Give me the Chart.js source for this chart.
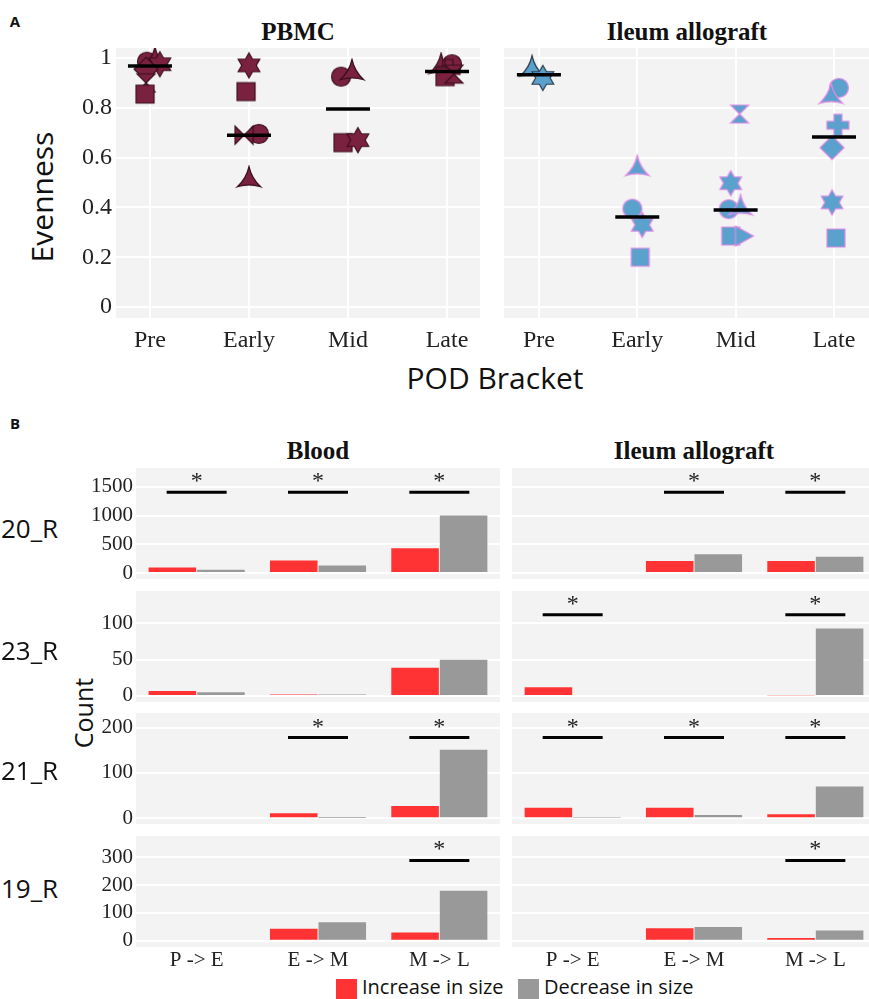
<!DOCTYPE html>
<html>
<head>
<meta charset="utf-8">
<script src="https://cdn.jsdelivr.net/npm/chart.js@4.4.0/dist/chart.umd.min.js"></script>
<style>
html, body { margin: 0; padding: 0; overflow: hidden; background: #fff; width: 869px; height: 999px; }
canvas { position: absolute; }
.lbl { position: absolute; white-space: nowrap; line-height: 1; color: #111; }
.c { transform: translate(-50%, -50%); }
.rot { transform: translate(-50%, -50%) rotate(-90deg); }
.title { font-family: "Liberation Serif", serif; font-weight: bold; font-size: 25px; }
.sans { font-family: "Open Sans", sans-serif; }
.key { position: absolute; width: 21px; height: 20px; }
</style>
</head>
<body>

<div class="lbl sans c" style="left:15px;top:21px;font-size:15px;font-weight:bold">A</div>
<div class="lbl title c" style="left:298px;top:31px">PBMC</div>
<div class="lbl title c" style="left:687px;top:31px">Ileum allograft</div>
<div class="lbl sans rot" style="left:42px;top:197px;font-size:30px">Evenness</div>
<div class="lbl sans c" style="left:495px;top:378px;font-size:30px">POD Bracket</div>

<div class="lbl sans c" style="left:15px;top:423px;font-size:15px;font-weight:bold">B</div>
<div class="lbl title c" style="left:318px;top:450px">Blood</div>
<div class="lbl title c" style="left:694px;top:450px">Ileum allograft</div>
<div class="lbl sans rot" style="left:83px;top:713px;font-size:25px">Count</div>

<div class="key" style="left:336px;top:979px;background:#ff3333"></div>
<div class="lbl sans" style="left:362px;top:977px;font-size:20px">Increase in size</div>
<div class="key" style="left:518px;top:979px;background:#999999"></div>
<div class="lbl sans" style="left:544px;top:977px;font-size:20px">Decrease in size</div>

<script>
// ---- panel A data ----
var brackets = ['Pre', 'Early', 'Mid', 'Late'];

var pbmcBracket  = [0, 0, 0, 0, 0, 0, 1, 1, 1, 1, 1, 2, 2, 2, 2, 3, 3, 3, 3, 3];
var pbmcEvenness = [0.985, 0.99, 0.975, 0.955, 0.9, 0.855, 0.97, 0.865, 0.695, 0.69, 0.51,
                    0.925, 0.94, 0.66, 0.67, 0.965, 0.975, 0.95, 0.925, 0.935];
var pbmcJitter   = [-0.03, 0.05, 0.1, -0.04, -0.04, -0.05, 0, -0.03, 0.1, -0.05, 0,
                    -0.07, 0.04, -0.05, 0.1, -0.06, 0.05, 0.02, -0.02, 0.07];
var pbmcMedian   = [0.968, 0.69, 0.795, 0.946];

var ileumBracket  = [0, 0, 1, 1, 1, 1, 2, 2, 2, 2, 2, 2, 3, 3, 3, 3, 3, 3];
var ileumEvenness = [0.955, 0.92, 0.555, 0.395, 0.33, 0.2,
                     0.775, 0.497, 0.393, 0.397, 0.285, 0.285,
                     0.88, 0.845, 0.73, 0.64, 0.42, 0.277];
var ileumJitter   = [-0.07, 0.04, 0, -0.05, 0.05, 0.03,
                     0.04, -0.05, -0.07, 0.05, -0.05, 0.08,
                     0.05, -0.03, 0.04, -0.02, -0.02, 0.02];
var ileumMedian   = [0.933, 0.361, 0.39, 0.683];

// marker shape of each point (one shape per patient)
var pbmcShape  = ['circle', 'startri', 'hexagram', 'diamond', 'hourglass', 'square',
                  'hexagram', 'square', 'circle', 'bowtie', 'startri',
                  'circle', 'startri', 'square', 'hexagram',
                  'startri', 'circle', 'cross', 'square', 'hourglass'];
var ileumShape = ['startri', 'hexagram', 'startri', 'circle', 'hexagram', 'square',
                  'hourglass', 'hexagram', 'circle', 'startri', 'square', 'triright',
                  'circle', 'startri', 'cross', 'diamond', 'hexagram', 'square'];

// ---- panel B data ----
var transitions = ['P -> E', 'E -> M', 'M -> L'];
var patients = ['20_R', '23_R', '21_R', '19_R'];

var bloodIncrease = [[97, 220, 430], [7, 2, 39], [0, 11, 27], [0, 43, 29]];
var bloodDecrease = [[57, 133, 1000], [5, 2, 50], [0, 0.5, 151], [0, 66, 179]];
var ileumIncrease = [[0, 210, 210], [12, 0, 1], [23, 23, 9], [0, 45, 10]];
var ileumDecrease = [[0, 325, 285], [0, 1.5, 93], [1, 7, 70], [0, 49, 37]];

var bloodSig = [[1, 1, 1], [0, 0, 0], [0, 1, 1], [0, 0, 1]];
var ileumSig = [[0, 1, 1], [1, 0, 1], [1, 1, 1], [0, 0, 1]];
var sigLevel = [1406, 112, 178, 288];

var countMin   = [-104, -8.3, -12.6, -22.7];
var countMax   = [1829, 144.6, 232, 376];
var countTicks = [[0, 500, 1000, 1500], [0, 50, 100], [0, 100, 200], [0, 100, 200, 300]];

// ---- helpers ----
var panelBg = {
    id: 'panelBg',
    beforeDraw: function (chart) {
        var a = chart.chartArea, c = chart.ctx;
        c.save();
        c.fillStyle = '#f3f3f3';
        c.fillRect(a.left, a.top, a.right - a.left, a.bottom - a.top);
        c.restore();
    }
};

var asterisks = {
    id: 'asterisks',
    afterDatasetsDraw: function (chart) {
        var c = chart.ctx;
        chart.data.datasets.forEach(function (ds, i) {
            if (!ds.sig) return;
            chart.getDatasetMeta(i).data.forEach(function (pt, j) {
                if (ds.data[j] === null) return;
                c.save();
                c.fillStyle = '#222';
                c.font = '24px "Liberation Serif"';
                c.textAlign = 'center';
                c.textBaseline = 'alphabetic';
                c.fillText('*', pt.x, pt.y - 4);
                c.restore();
            });
        });
    }
};

function marker(shape, fill, stroke) {
    var s = 30, cv = document.createElement('canvas');
    cv.width = cv.height = s;
    var g = cv.getContext('2d');
    g.translate(s / 2, s / 2);
    g.beginPath();
    var k, a, r;
    if (shape === 'circle') {
        g.arc(0, 0, 9.5, 0, Math.PI * 2);
    } else if (shape === 'square') {
        g.rect(-9, -9, 18, 18);
    } else if (shape === 'diamond') {
        g.moveTo(0, -12); g.lineTo(12, 0); g.lineTo(0, 12); g.lineTo(-12, 0);
    } else if (shape === 'hexagram') {
        for (k = 0; k < 12; k++) {
            a = -Math.PI / 2 + k * Math.PI / 6;
            r = k % 2 ? 7.2 : 12.5;
            g.lineTo(r * Math.cos(a), r * Math.sin(a));
        }
    } else if (shape === 'startri') {
        for (k = 0; k < 3; k++) {
            a = -Math.PI / 2 + k * 2 * Math.PI / 3;
            var a2 = a + Math.PI / 3;
            if (k === 0) g.moveTo(13.5 * Math.cos(a), 13.5 * Math.sin(a));
            var b = a + 2 * Math.PI / 3;
            g.quadraticCurveTo(3 * Math.cos(a2), 3 * Math.sin(a2), 13.5 * Math.cos(b), 13.5 * Math.sin(b));
        }
    } else if (shape === 'hourglass') {
        g.moveTo(-9, -9); g.lineTo(9, -9); g.lineTo(-9, 9); g.lineTo(9, 9);
    } else if (shape === 'bowtie') {
        g.moveTo(-9, -9); g.lineTo(9, 9); g.lineTo(9, -9); g.lineTo(-9, 9);
    } else if (shape === 'cross') {
        g.moveTo(-4, -11); g.lineTo(4, -11); g.lineTo(4, -4); g.lineTo(11, -4); g.lineTo(11, 4);
        g.lineTo(4, 4); g.lineTo(4, 11); g.lineTo(-4, 11); g.lineTo(-4, 4); g.lineTo(-11, 4);
        g.lineTo(-11, -4); g.lineTo(-4, -4);
    } else if (shape === 'triright') {
        g.moveTo(-8, -10); g.lineTo(10, 0); g.lineTo(-8, 10);
    }
    g.closePath();
    g.fillStyle = fill;
    g.fill();
    g.lineWidth = 1.2;
    g.strokeStyle = stroke;
    g.stroke();
    return cv;
}

function addCanvas(left, top, w, h) {
    var cv = document.createElement('canvas');
    cv.width = w; cv.height = h;
    cv.style.left = left + 'px';
    cv.style.top = top + 'px';
    cv.style.width = w + 'px';
    cv.style.height = h + 'px';
    document.body.appendChild(cv);
    return cv;
}

var serif = function (size) { return { family: '"Liberation Serif", serif', size: size }; };

// ---- panel A ----
function evennessChart(cv, bracket, values, jitter, shapes, medians, fill, stroke, preStroke, opt) {
    var pts = bracket.map(function (b, i) { return { x: b + jitter[i], y: values[i] }; });
    var styles = shapes.map(function (s, i) { return marker(s, fill, bracket[i] === 0 ? preStroke : stroke); });
    new Chart(cv, {
        type: 'scatter',
        data: {
            datasets: [{
                data: medians.map(function (m, i) { return { x: i, y: m }; }),
                pointStyle: 'line', pointRadius: 22, pointHoverRadius: 22,
                borderColor: '#000', pointBorderWidth: 3.5, borderWidth: 3.5
            }, {
                data: pts,
                pointStyle: styles, pointRadius: 10
            }]
        },
        options: {
            responsive: false, animation: false,
            layout: { autoPadding: false, padding: { top: 8, right: opt.padRight, left: 0, bottom: 0 } },
            plugins: { legend: { display: false }, tooltip: { enabled: false } },
            scales: {
                x: {
                    type: 'linear', min: opt.xmin, max: opt.xmax,
                    afterBuildTicks: function (s) { s.ticks = [0, 1, 2, 3].map(function (v) { return { value: v }; }); },
                    afterFit: function (s) { s.height = 52; s.paddingLeft = 0; s.paddingRight = 0; },
                    grid: { color: '#ffffff', lineWidth: 2, drawTicks: false },
                    border: { display: false },
                    ticks: { padding: 8, color: '#222', font: serif(24), callback: function (v) { return brackets[v]; } }
                },
                y: {
                    min: -0.044, max: 1.04,
                    afterBuildTicks: function (s) { s.ticks = [0, 0.2, 0.4, 0.6, 0.8, 1].map(function (v) { return { value: v }; }); },
                    afterFit: function (s) { s.width = opt.yWidth; s.paddingTop = 0; s.paddingBottom = 0; },
                    grid: { color: '#ffffff', lineWidth: 2, drawTicks: false },
                    border: { display: false },
                    ticks: { display: opt.showY, padding: 4, color: '#222', font: serif(24),
                             callback: function (v) { return String(+v.toFixed(2)); } }
                }
            }
        },
        plugins: [panelBg]
    });
}

evennessChart(addCanvas(40, 40, 450, 330), pbmcBracket, pbmcEvenness, pbmcJitter, pbmcShape, pbmcMedian,
    '#7b2140', '#3a0f1e', '#3a0f1e', { xmin: -0.343, xmax: 3.333, yWidth: 76, padRight: 10, showY: true });
evennessChart(addCanvas(494, 40, 375, 330), ileumBracket, ileumEvenness, ileumJitter, ileumShape, ileumMedian,
    '#5aa1cd', '#df8be6', '#2b3a48', { xmin: -0.355, xmax: 3.356, yWidth: 10, padRight: 0, showY: false });

// ---- panel B ----
var rowTops = [468, 591, 713, 836];
var rowH = 111;
var rowLabelShift = [47, 46, 44, 39];

function countChart(cv, row, inc, dec, sig, showY, yWidth, bottom) {
    new Chart(cv, {
        type: 'bar',
        data: {
            labels: transitions,
            datasets: [{
                type: 'line', sig: true,
                data: sig.map(function (s) { return s ? sigLevel[row] : null; }),
                showLine: false, pointStyle: 'line', pointRadius: 30, pointHoverRadius: 30,
                borderColor: '#000', pointBorderWidth: 3, borderWidth: 3
            }, {
                label: 'Increase in size', data: inc, backgroundColor: '#ff3333',
                categoryPercentage: 0.8, barPercentage: 0.98
            }, {
                label: 'Decrease in size', data: dec, backgroundColor: '#999999',
                categoryPercentage: 0.8, barPercentage: 0.98
            }]
        },
        options: {
            responsive: false, animation: false,
            layout: { autoPadding: false, padding: { top: 14, right: 0, left: 0, bottom: bottom ? 0 : 14 } },
            plugins: { legend: { display: false }, tooltip: { enabled: false } },
            scales: {
                x: {
                    display: bottom,
                    afterFit: function (s) { s.height = bottom ? 40 : 0; s.paddingLeft = 0; s.paddingRight = 0; },
                    grid: { display: false, drawTicks: false },
                    border: { display: false },
                    ticks: { padding: 1, color: '#222', font: serif(21) }
                },
                y: {
                    min: countMin[row], max: countMax[row],
                    afterBuildTicks: function (s) { s.ticks = countTicks[row].map(function (v) { return { value: v }; }); },
                    afterFit: function (s) { s.width = yWidth; s.paddingTop = 0; s.paddingBottom = 0; },
                    grid: { color: '#ffffff', lineWidth: 2, drawTicks: false },
                    border: { display: false },
                    ticks: { display: showY, autoSkip: false, padding: 3, color: '#222', font: serif(21),
                             callback: function (v) { return String(v); } }
                }
            }
        },
        plugins: [panelBg, asterisks]
    });
}

patients.forEach(function (p, r) {
    var bottom = r === patients.length - 1;
    var h = 14 + rowH + (bottom ? 40 : 14);
    var top = rowTops[r] - 14;
    countChart(addCanvas(76, top, 424, h), r, bloodIncrease[r], bloodDecrease[r], bloodSig[r], true, 60, bottom);
    countChart(addCanvas(502, top, 374, h), r, ileumIncrease[r], ileumDecrease[r], ileumSig[r], false, 10, bottom);

    var d = document.createElement('div');
    d.className = 'lbl sans';
    d.style.left = '1px';
    d.style.top = (rowTops[r] + rowLabelShift[r]) + 'px';
    d.style.fontSize = '26px';
    d.textContent = p;
    document.body.appendChild(d);
});
</script>
</body>
</html>
